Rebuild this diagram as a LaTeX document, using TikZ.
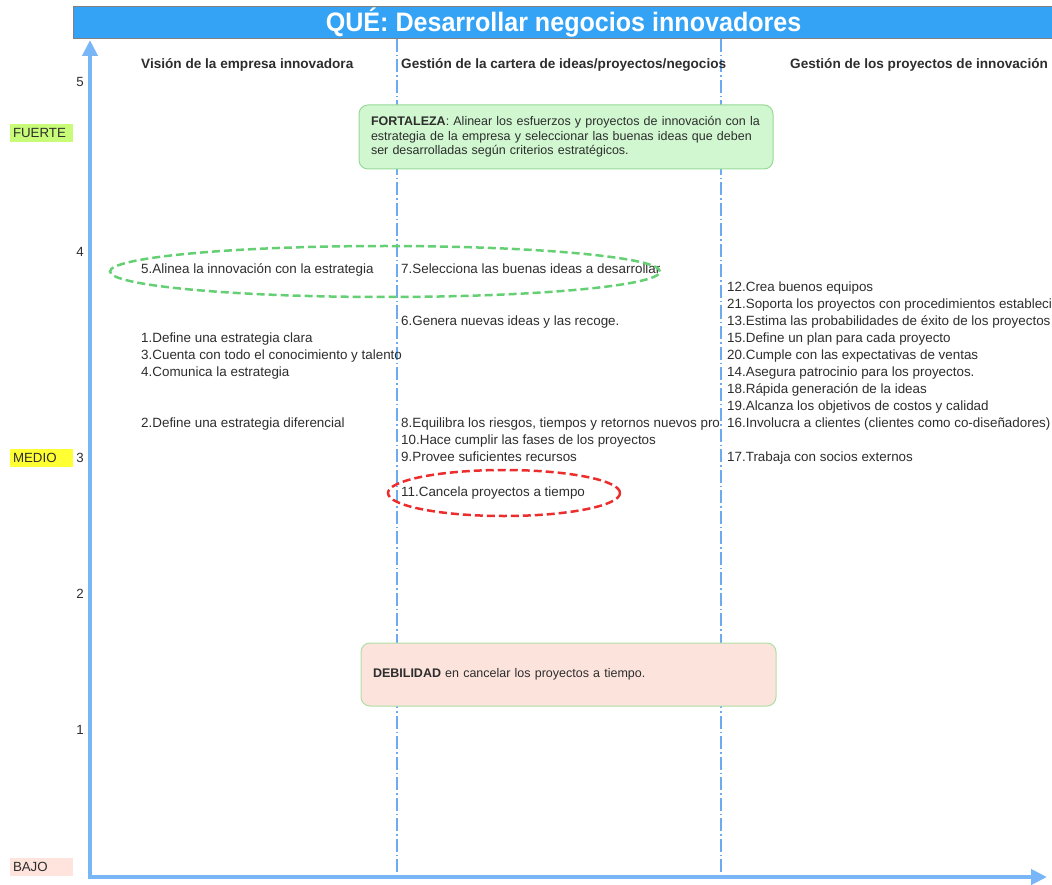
\documentclass[tikz,border=0pt]{standalone}
\usepackage{graphicx}
\usepackage{fontspec}
\setmainfont{Liberation Sans}
\usetikzlibrary{arrows.meta,shapes.geometric}
\definecolor{titleblue}{RGB}{52,163,245}
\definecolor{axisblue}{RGB}{120,182,248}
\definecolor{dashblue}{RGB}{110,170,240}
\definecolor{txt}{RGB}{45,45,45}
\definecolor{fortfill}{RGB}{208,247,208}
\definecolor{fortdraw}{RGB}{150,218,150}
\definecolor{debfill}{RGB}{252,228,221}
\definecolor{debdraw}{RGB}{175,222,165}
\definecolor{ellgreen}{RGB}{100,208,115}
\definecolor{ellred}{RGB}{236,45,45}
\definecolor{lvlgreen}{RGB}{200,252,120}
\definecolor{lvlyellow}{RGB}{255,255,51}
\definecolor{lvlpink}{RGB}{254,228,220}
\tikzset{
 item/.style={anchor=base west, inner sep=0pt, text=txt, font=\fontsize{13.4}{16}\selectfont},
 header/.style={anchor=base west, inner sep=0pt, text=txt, font=\fontsize{13.6}{16}\selectfont\bfseries},
 tick/.style={anchor=base, inner sep=0pt, text=txt, font=\fontsize{13.3}{16}\selectfont},
 lvl/.style={minimum width=63pt, minimum height=18pt, inner xsep=3pt, inner ysep=0pt, text width=57pt, align=left, text=txt, font=\fontsize{13.3}{16}\selectfont},
 axisline/.style={draw=axisblue, line width=4.5pt, -{Triangle[width=15pt,length=16pt]}},
 colsep/.style={draw=dashblue, line width=1.4pt, dash pattern=on 13pt off 3pt on 1.5pt off 3pt},
 ovalmark/.style={ellipse, draw, line width=2.5pt, dash pattern=on 8pt off 4pt, inner sep=0pt},
 notebox/.style={rounded corners=9pt, line width=1pt, align=left, text=txt, inner xsep=12pt, font=\fontsize{12.5}{14.5}\selectfont},
}
\begin{document}
\begin{tikzpicture}[x=1pt,y=-1pt]
\useasboundingbox (0,0) rectangle (1052,885);
% title bar
\node[draw=gray, line width=1.2pt, fill=titleblue, minimum width=980pt, minimum height=32pt, inner sep=0pt, anchor=north west,
      text=white, font=\fontsize{26.7}{30}\selectfont\bfseries] (title) at (73,6) {\scalebox{0.94}[1]{QUÉ: Desarrollar negocios innovadores}};
% column separators
\coordinate (s1t) at (397,39); \coordinate (s1b) at (397,872);
\coordinate (s2t) at (721,39); \coordinate (s2b) at (721,872);
\draw[colsep] (s1t) -- (s1b);
\draw[colsep] (s2t) -- (s2b);
% axes
\coordinate (yb) at (90,879.25); \coordinate (yt) at (90,40);
\coordinate (xl) at (87.75,877); \coordinate (xr) at (1047,877);
\draw[axisline] (yb) -- (yt);
\draw[axisline] (xl) -- (xr);
% ticks
\node[tick] (t5) at (80,86.5) {5};
\node[tick] (t4) at (80,256.5) {4};
\node[tick] (t3) at (80,462.5) {3};
\node[tick] (t2) at (80,598.5) {2};
\node[tick] (t1) at (80,734.5) {1};
% levels
\node[lvl, fill=lvlgreen] (fuerte) at (41.5,133) {FUERTE};
\node[lvl, fill=lvlyellow] (medio) at (41.5,457.5) {MEDIO};
\node[lvl, fill=lvlpink] (bajo) at (41.5,866.5) {BAJO};
% headers
\node[header] (h1) at (141,68.5) {Visión de la empresa innovadora};
\node[header] (h2) at (401,68.5) {Gestión de la cartera de ideas/proyectos/negocios};
\node[header] (h3) at (790,68.5) {Gestión de los proyectos de innovación};
% boxes
\node[notebox, draw=fortdraw, fill=fortfill, minimum width=414pt, minimum height=64pt, text width=390pt] (fort) at (566,137)
 {\makebox[384pt][s]{\textbf{FORTALEZA}: Alinear los esfuerzos y proyectos de innovación con la}\\
  \makebox[384pt][s]{estrategia de la empresa y seleccionar las buenas ideas que deben}\\
  ser desarrolladas según criterios estratégicos.};
\node[notebox, draw=debdraw, fill=debfill, minimum width=415pt, minimum height=63pt, text width=391pt] (deb) at (568.5,674.5)
 {\textbf{DEBILIDAD} en cancelar los proyectos a tiempo.};
% column 1
\node[item] (c5) at (141,273.5) {5.Alinea la innovación con la estrategia};
\node[item] (c1) at (141,342.5) {1.Define una estrategia clara};
\node[item] (c3) at (141,359.5) {3.Cuenta con todo el conocimiento y talento};
\node[item] (c4) at (141,376.5) {4.Comunica la estrategia};
\node[item] (c2) at (141,427.5) {2.Define una estrategia diferencial};
% column 2
\node[item] (c7) at (401,273.5) {7.Selecciona las buenas ideas a desarrollar};
\node[item] (c6) at (401,325.5) {6.Genera nuevas ideas y las recoge.};
\begin{scope}
\clip (395,405) rectangle (719.5,436);
\node[item] (c8) at (401,427.5) {8.Equilibra los riesgos, tiempos y retornos nuevos proyectos};
\end{scope}
\node[item] (c10) at (401,444.5) {10.Hace cumplir las fases de los proyectos};
\node[item] (c9) at (401,461.5) {9.Provee suficientes recursos};
\node[item] (c11) at (401,496.5) {11.Cancela proyectos a tiempo};
% column 3
\node[item] (c12) at (727,291.5) {12.Crea buenos equipos};
\node[item] (c21) at (727,308.5) {21.Soporta los proyectos con procedimientos establecidos};
\node[item] (c13) at (727,325.5) {13.Estima las probabilidades de éxito de los proyectos};
\node[item] (c15) at (727,342.5) {15.Define un plan para cada proyecto};
\node[item] (c20) at (727,359.5) {20.Cumple con las expectativas de ventas};
\node[item] (c14) at (727,376.5) {14.Asegura patrocinio para los proyectos.};
\node[item] (c18) at (727,393.5) {18.Rápida generación de la ideas};
\node[item] (c19) at (727,410.5) {19.Alcanza los objetivos de costos y calidad};
\node[item] (c16) at (727,427.5) {16.Involucra a clientes (clientes como co-diseñadores)};
\node[item] (c17) at (727,461.5) {17.Trabaja con socios externos};
% ovals
\node[ovalmark, draw=ellgreen, minimum width=550pt, minimum height=51pt] (og) at (385,271.5) {};
\node[ovalmark, draw=ellred, minimum width=232pt, minimum height=46pt] (or) at (504,493) {};
\end{tikzpicture}
\end{document}
